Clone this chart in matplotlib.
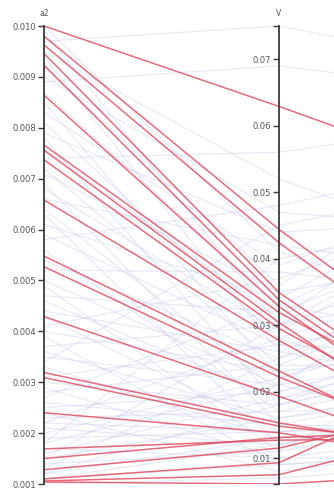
import numpy as np
import matplotlib
matplotlib.use("Agg")
import matplotlib.pyplot as plt
from matplotlib.ticker import FixedLocator, FuncFormatter

# ---------------- data ----------------
dims = ["a2", "V", "a3"]

bg_a2 = [0.0100, 0.0099, 0.0097, 0.0095, 0.0094, 0.0092, 0.0090, 0.0089, 0.0087, 0.0085,
         0.0083, 0.0081, 0.0079, 0.0078, 0.0076, 0.0074, 0.0072, 0.0071, 0.0069, 0.0068,
         0.0066, 0.0064, 0.0063, 0.0061, 0.0059, 0.0058, 0.0056, 0.0054, 0.0052, 0.0050,
         0.0049, 0.0047, 0.0046, 0.0044, 0.0043, 0.0041, 0.0040, 0.0039, 0.0037, 0.0036,
         0.0035, 0.0034, 0.0033, 0.0031, 0.0030, 0.0029, 0.0028, 0.0027, 0.0026, 0.0025,
         0.0024, 0.0023, 0.0022, 0.0021, 0.0020, 0.0019, 0.0018, 0.0017, 0.0016, 0.0015,
         0.0014, 0.0013, 0.0012, 0.0011, 0.0010, 0.0012, 0.0011, 0.0015, 0.0018, 0.0022]
bg_V = [0.041, 0.030, 0.075, 0.052, 0.026, 0.036, 0.047, 0.069, 0.033, 0.022,
        0.039, 0.028, 0.044, 0.018, 0.031, 0.056, 0.024, 0.035, 0.015, 0.029,
        0.042, 0.020, 0.012, 0.034, 0.027, 0.048, 0.017, 0.025, 0.038, 0.021,
        0.011, 0.032, 0.019, 0.026, 0.014, 0.037, 0.023, 0.009, 0.030, 0.016,
        0.021, 0.045, 0.013, 0.027, 0.018, 0.010, 0.024, 0.033, 0.015, 0.020,
        0.008, 0.017, 0.028, 0.012, 0.022, 0.014, 0.040, 0.010, 0.019, 0.016,
        0.011, 0.025, 0.013, 0.009, 0.007, 0.018, 0.012, 0.030, 0.021, 0.014]
bg_a3 = [0.35, 0.62, 0.90, 0.48, 0.20, 0.75, 0.55, 0.85, 0.30, 0.42,
         0.66, 0.15, 0.58, 0.38, 0.70, 0.80, 0.25, 0.50, 0.12, 0.60,
         0.45, 0.33, 0.22, 0.68, 0.28, 0.72, 0.18, 0.52, 0.40, 0.10,
         0.36, 0.57, 0.26, 0.47, 0.14, 0.63, 0.31, 0.08, 0.44, 0.21,
         0.54, 0.67, 0.17, 0.39, 0.29, 0.12, 0.46, 0.61, 0.23, 0.34,
         0.09, 0.27, 0.49, 0.19, 0.37, 0.13, 0.59, 0.06, 0.32, 0.24,
         0.16, 0.43, 0.11, 0.07, 0.05, 0.28, 0.20, 0.53, 0.30, 0.15]

red_a2 = [0.0100, 0.0098, 0.00963, 0.00946, 0.00923, 0.00864, 0.00766, 0.00756, 0.00737, 0.00658,
          0.00548, 0.00527, 0.00429, 0.00319, 0.00309, 0.0024, 0.00169, 0.0015, 0.00128, 0.0011,
          0.00106, 0.00104]
red_V = [0.0629, 0.0444, 0.0424, 0.0349, 0.0338, 0.0328, 0.0319, 0.0304, 0.0295, 0.0277,
         0.0231, 0.0222, 0.0193, 0.0153, 0.0148, 0.0138, 0.0127, 0.0131, 0.0115, 0.0093,
         0.0075, 0.0061]
red_a3 = [0.64, 0.18, 0.16, 0.07, 0.05, 0.03, 0.10, 0.01, 0.06, 0.03,
          0.0, 0.03, 0.01, 0.05, 0.07, 0.03, 0.10, 0.12, 0.20, 0.28,
          0.15, 0.03]

a2_ticks = [0.001, 0.002, 0.003, 0.004, 0.005, 0.006, 0.007, 0.008, 0.009, 0.010]
V_ticks = [0.01, 0.02, 0.03, 0.04, 0.05, 0.06, 0.07]

# ---------------- layout ----------------
W, H = 334, 488
fig = plt.figure(figsize=(W / 100, H / 100), dpi=100)
fig.patch.set_facecolor("white")

x_a2_px, x_V_px, spacing = 44, 279, 235
top_px, bot_px = 26, 484

all_a2 = np.array(bg_a2 + red_a2)
all_V = np.array(bg_V + red_V)
a2_dom = (all_a2.min(), all_a2.max())
V_dom = (all_V.min(), all_V.max())
a3_dom = (0.0, 1.0)

def norm(v, dom):
    return (np.asarray(v) - dom[0]) / (dom[1] - dom[0])

ax = fig.add_axes([x_a2_px / W, (H - bot_px) / H, (W - x_a2_px) / W, (bot_px - top_px) / H])
ax.set_xlim(0, (W - x_a2_px) / spacing)
ax.set_ylim(0, 1)
ax.axis("off")
ax.set_zorder(0)

xs = [0, 1, 2]
bgN = np.vstack([norm(bg_a2, a2_dom), norm(bg_V, V_dom), norm(bg_a3, a3_dom)]).T
for row in bgN:
    ax.plot(xs, row, color="#cdd1ec", lw=0.9, alpha=0.45, solid_capstyle="butt")
redN = np.vstack([norm(red_a2, a2_dom), norm(red_V, V_dom), norm(red_a3, a3_dom)]).T
for row in redN:
    ax.plot(xs, row, color="#e0475a", lw=1.1, alpha=0.8, solid_capstyle="butt")

def make_axis(xpx, dom, ticks, fmt, title):
    a = fig.add_axes([xpx / W, (H - bot_px) / H, 0.0001, (bot_px - top_px) / H])
    a.set_zorder(2)
    a.patch.set_visible(False)
    a.set_ylim(*dom)
    for s in ["right", "top", "bottom"]:
        a.spines[s].set_visible(False)
    a.spines["left"].set_color("#3a3a3a")
    a.spines["left"].set_linewidth(1.3)
    a.set_xticks([])
    a.yaxis.set_major_locator(FixedLocator(ticks))
    a.yaxis.set_major_formatter(FuncFormatter(lambda v, p: fmt.format(v)))
    a.yaxis.set_minor_locator(FixedLocator([dom[0], dom[1]]))
    a.tick_params(axis="y", which="both", direction="out", length=4, width=1.0,
                  color="#3a3a3a", labelsize=6, labelcolor="#555555", pad=1.5)
    fig.text(xpx / W, 1 - 14 / H, title, ha="center", va="center", fontsize=5.5, color="#555555")
    return a

make_axis(x_a2_px, a2_dom, a2_ticks, "{:.3f}", "a2")
make_axis(x_V_px, V_dom, V_ticks, "{:.2f}", "V")

fig.savefig("out.png", dpi=100, facecolor="white")
